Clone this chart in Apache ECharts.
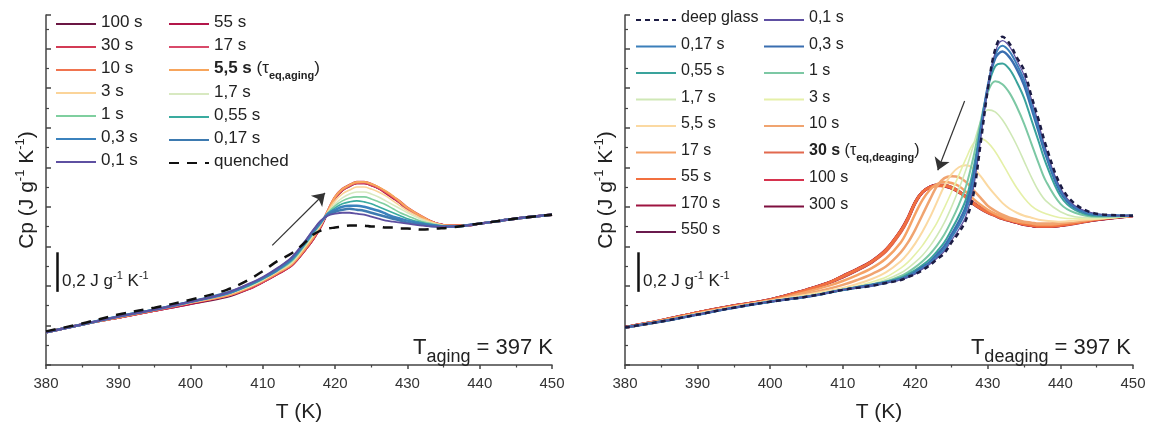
<!DOCTYPE html>
<html><head><meta charset="utf-8">
<script src="https://cdn.jsdelivr.net/npm/echarts@6/dist/echarts.min.js"></script>
<style>html,body{margin:0;padding:0;background:#fff}#c{width:1153px;height:428px}</style>
</head><body><div id="c"></div>
<script>
// ---------- data (relative Cp, J g^-1 K^-1) ----------
const T_aging = [380,385,390,395,400,405,408,410,412,414,416,417,418,419,420,421,422,423,424,425,426,427,428,429,430,432,434,436,438,440,443,446,450];
const aging_quenched = [.37,.41,.455,.49,.53,.58,.63,.675,.725,.765,.825,.86,.88,.89,.895,.90,.905,.905,.905,.90,.90,.895,.895,.89,.89,.885,.89,.895,.905,.915,.93,.945,.96];
const aging_0_1  = [.365,.405,.445,.48,.52,.565,.61,.645,.69,.745,.835,.885,.93,.955,.965,.97,.97,.965,.96,.95,.94,.93,.925,.92,.915,.905,.90,.90,.905,.915,.93,.945,.96];
const aging_0_17 = [.365,.405,.445,.48,.52,.565,.605,.64,.685,.74,.83,.88,.925,.96,.975,.985,.99,.985,.98,.97,.96,.95,.94,.93,.92,.91,.90,.90,.905,.915,.93,.945,.96];
const aging_0_3  = [.365,.405,.445,.48,.52,.56,.605,.64,.68,.735,.825,.875,.92,.965,.985,1.0,1.005,1.005,1.0,.99,.98,.965,.95,.94,.93,.915,.905,.90,.905,.915,.93,.945,.96];
const aging_0_55 = [.365,.405,.445,.48,.52,.56,.60,.635,.68,.73,.82,.87,.92,.965,.995,1.015,1.025,1.03,1.025,1.015,1.0,.985,.97,.955,.94,.92,.905,.90,.905,.915,.93,.945,.96];
const aging_1    = [.365,.405,.445,.48,.52,.56,.60,.635,.675,.725,.815,.865,.915,.97,1.005,1.03,1.045,1.05,1.05,1.04,1.025,1.01,.99,.97,.955,.925,.91,.90,.905,.915,.93,.945,.96];
const aging_1_7  = [.365,.405,.445,.48,.52,.56,.595,.63,.675,.72,.81,.86,.91,.97,1.015,1.045,1.065,1.075,1.075,1.065,1.05,1.03,1.01,.99,.97,.935,.91,.90,.905,.915,.93,.945,.96];
const aging_3    = [.365,.405,.445,.48,.515,.555,.595,.63,.67,.715,.805,.855,.91,.975,1.03,1.065,1.085,1.10,1.10,1.09,1.075,1.055,1.03,1.005,.98,.94,.915,.90,.905,.915,.93,.945,.96];
const aging_5_5  = [.365,.405,.44,.48,.515,.55,.59,.625,.665,.71,.795,.845,.905,.98,1.05,1.09,1.11,1.125,1.125,1.115,1.10,1.08,1.055,1.025,.995,.95,.915,.905,.905,.915,.93,.945,.96];
const aging_10   = [.365,.405,.44,.475,.515,.55,.59,.625,.665,.71,.795,.845,.905,.98,1.05,1.085,1.11,1.12,1.125,1.115,1.10,1.075,1.05,1.025,.995,.95,.915,.905,.905,.915,.93,.945,.96];
const aging_17   = [.365,.405,.44,.475,.515,.55,.59,.62,.665,.71,.795,.845,.905,.98,1.045,1.085,1.105,1.12,1.12,1.11,1.095,1.075,1.05,1.02,.99,.945,.915,.905,.905,.915,.93,.945,.96];
const aging_30   = [.365,.405,.44,.475,.515,.55,.585,.62,.66,.705,.79,.84,.90,.98,1.05,1.09,1.11,1.125,1.125,1.115,1.095,1.075,1.05,1.025,.995,.95,.915,.905,.905,.915,.93,.945,.96];
const aging_55   = [.365,.405,.44,.475,.51,.55,.585,.62,.66,.705,.79,.84,.90,.975,1.045,1.085,1.11,1.12,1.12,1.11,1.095,1.07,1.045,1.02,.99,.945,.915,.905,.905,.915,.93,.945,.96];
const aging_100  = [.365,.405,.44,.475,.51,.545,.585,.62,.66,.705,.79,.84,.90,.975,1.045,1.085,1.105,1.12,1.12,1.11,1.095,1.075,1.05,1.02,.99,.945,.915,.905,.905,.915,.93,.945,.96];

const T_deaging = [380,385,390,395,400,405,408,410,412,414,416,418,419,420,421,422,423,424,425,426,427,428,429,430,431,432,433,434,435,436,437,438,440,442,445,450];
const deaging_deep = [.39,.42,.455,.49,.52,.545,.565,.58,.59,.60,.615,.63,.645,.66,.68,.705,.735,.765,.82,.87,.935,1.06,1.32,1.595,1.795,1.86,1.825,1.755,1.69,1.56,1.44,1.31,1.11,1.015,.965,.955];
const deaging_0_1  = [.39,.42,.455,.49,.52,.545,.565,.58,.59,.60,.615,.63,.645,.66,.685,.71,.74,.775,.83,.885,.955,1.09,1.34,1.60,1.78,1.84,1.81,1.74,1.665,1.545,1.42,1.29,1.095,1.005,.965,.955];
const deaging_0_17 = [.39,.42,.455,.49,.52,.545,.565,.58,.59,.60,.615,.635,.645,.665,.69,.715,.75,.785,.845,.905,.98,1.12,1.365,1.605,1.765,1.815,1.785,1.72,1.64,1.52,1.40,1.275,1.085,1.0,.96,.955];
const deaging_0_3  = [.39,.42,.455,.49,.52,.545,.565,.58,.593,.605,.618,.635,.65,.67,.695,.72,.76,.80,.86,.925,1.005,1.15,1.385,1.61,1.75,1.785,1.755,1.695,1.615,1.50,1.38,1.26,1.075,.995,.96,.955];
const deaging_0_55 = [.39,.42,.455,.49,.52,.545,.565,.58,.594,.607,.622,.642,.66,.68,.705,.735,.775,.82,.885,.955,1.04,1.19,1.40,1.60,1.71,1.725,1.695,1.63,1.55,1.44,1.33,1.22,1.055,.985,.955,.955];
const deaging_1    = [.39,.42,.455,.49,.52,.545,.565,.578,.59,.603,.622,.65,.67,.695,.725,.76,.805,.86,.93,1.01,1.105,1.25,1.43,1.58,1.635,1.62,1.575,1.505,1.42,1.32,1.22,1.13,1.015,.97,.95,.955];
const deaging_1_7  = [.39,.42,.455,.49,.52,.545,.565,.58,.595,.61,.632,.665,.69,.72,.755,.80,.855,.92,1.0,1.09,1.19,1.31,1.43,1.49,1.48,1.44,1.38,1.31,1.23,1.15,1.08,1.03,.975,.95,.945,.955];
const deaging_3    = [.39,.42,.455,.49,.52,.55,.57,.585,.60,.62,.645,.69,.72,.76,.805,.86,.92,.995,1.075,1.16,1.245,1.32,1.345,1.325,1.28,1.22,1.155,1.095,1.045,1.005,.98,.965,.945,.94,.94,.955];
const deaging_5_5  = [.39,.42,.46,.495,.525,.555,.575,.59,.61,.635,.67,.725,.765,.815,.875,.945,1.025,1.105,1.165,1.20,1.21,1.195,1.155,1.105,1.06,1.02,.99,.97,.955,.945,.935,.93,.925,.93,.94,.955];
const deaging_10   = [.39,.42,.46,.495,.525,.56,.585,.605,.63,.66,.70,.77,.82,.885,.96,1.035,1.105,1.145,1.155,1.15,1.125,1.085,1.045,1.005,.98,.96,.945,.935,.925,.92,.915,.915,.92,.925,.94,.955];
const deaging_17   = [.39,.425,.46,.495,.525,.57,.60,.625,.655,.69,.74,.82,.885,.965,1.035,1.085,1.115,1.125,1.12,1.105,1.075,1.04,1.01,.985,.965,.95,.935,.925,.92,.915,.91,.91,.915,.925,.94,.955];
const deaging_30   = [.39,.425,.465,.50,.53,.58,.615,.645,.68,.72,.775,.87,.935,1.02,1.075,1.10,1.11,1.11,1.10,1.08,1.05,1.02,.995,.975,.96,.945,.935,.925,.915,.91,.905,.905,.91,.92,.94,.955];
const deaging_55   = [.39,.425,.465,.50,.53,.58,.615,.65,.685,.725,.785,.88,.945,1.025,1.075,1.10,1.105,1.105,1.095,1.075,1.045,1.015,.99,.97,.955,.94,.93,.92,.91,.905,.90,.90,.905,.915,.935,.955];
const deaging_100  = [.39,.425,.465,.50,.53,.58,.615,.645,.68,.72,.78,.875,.94,1.02,1.07,1.095,1.105,1.105,1.095,1.075,1.045,1.015,.99,.97,.955,.94,.93,.92,.91,.905,.90,.90,.905,.915,.935,.955];
const deaging_170  = [.39,.425,.465,.50,.53,.58,.615,.65,.685,.725,.785,.88,.945,1.025,1.075,1.10,1.11,1.105,1.095,1.075,1.05,1.02,.995,.975,.96,.945,.93,.92,.91,.905,.90,.90,.905,.92,.935,.955];
const deaging_300  = [.39,.425,.465,.50,.53,.58,.615,.645,.68,.72,.78,.875,.94,1.02,1.075,1.10,1.11,1.105,1.095,1.075,1.05,1.015,.99,.97,.955,.94,.93,.92,.91,.905,.90,.90,.905,.915,.935,.955];
const deaging_550  = [.39,.425,.465,.50,.53,.58,.615,.65,.685,.725,.785,.88,.94,1.025,1.075,1.10,1.11,1.11,1.10,1.08,1.05,1.02,.995,.975,.96,.945,.935,.92,.915,.905,.90,.90,.905,.92,.935,.955];

const xTicks = [380,390,400,410,420,430,440,450];
// annotation anchors in data units (T in K, relative Cp)
const agingArrow = [[411.3, .805],[418.6, 1.07]];
const deagingArrow = [[426.8, 1.535],[423.1, 1.185]];
const scaleBarAging = [[381.5, .57],[381.5, .77]];
const scaleBarDeaging = [[381.8, .57],[381.8, .77]];

// ---------- chart ----------
const FONT = 'Liberation Sans, Arial, Helvetica, sans-serif';
const chart = echarts.init(document.getElementById('c'));
const pairs = (T, v) => T.map((t, i) => [t, v[i]]);

function line(name, T, v, color, width, gi, dash) {
  return {
    type: 'line', name: name, xAxisIndex: gi, yAxisIndex: gi,
    data: pairs(T, v), symbol: 'none', showSymbol: false, smooth: 0.35,
    lineStyle: { color: color, width: width, type: dash || 'solid' },
    itemStyle: { color: color }, silent: true, animation: false
  };
}
const L = 0, R = 1;
const sAging = [
  line('100 s', T_aging, aging_100, '#6b1744', 2.5, L),
  line('55 s', T_aging, aging_55, '#b3164a', 2.5, L),
  line('30 s', T_aging, aging_30, '#d33b55', 2.5, L),
  line('17 s', T_aging, aging_17, '#d94a6a', 2, L),
  line('10 s', T_aging, aging_10, '#f0744f', 1.6, L),
  line('5,5 s (τeq,aging)', T_aging, aging_5_5, '#f7a55c', 2, L),
  line('3 s', T_aging, aging_3, '#fbd499', 1.6, L),
  line('1,7 s', T_aging, aging_1_7, '#d8e9c1', 1.6, L),
  line('1 s', T_aging, aging_1, '#7fcf9f', 1.6, L),
  line('0,55 s', T_aging, aging_0_55, '#3aab9f', 1.6, L),
  line('0,3 s', T_aging, aging_0_3, '#3b82bd', 2.5, L),
  line('0,17 s', T_aging, aging_0_17, '#3d7ab0', 2.5, L),
  line('0,1 s', T_aging, aging_0_1, '#5e50a1', 1.8, L),
  line('quenched', T_aging, aging_quenched, '#111111', 2.5, L, [10, 8])
];
const sDeaging = [
  line('550 s#R', T_deaging, deaging_550, '#6a1a4e', 2.5, R),
  line('300 s#R', T_deaging, deaging_300, '#7e0f3f', 3, R),
  line('170 s#R', T_deaging, deaging_170, '#9e1440', 3, R),
  line('100 s#R', T_deaging, deaging_100, '#d6334e', 1.6, R),
  line('30 s (τeq,deaging)', T_deaging, deaging_30, '#e2694e', 2.5, R),
  line('55 s#R', T_deaging, deaging_55, '#f2703f', 2.5, R),
  line('17 s#R', T_deaging, deaging_17, '#f5a266', 2.5, R),
  line('10 s#R', T_deaging, deaging_10, '#f0a470', 2.5, R),
  line('5,5 s#R', T_deaging, deaging_5_5, '#fbd9a2', 2, R),
  line('3 s#R', T_deaging, deaging_3, '#e5f0a8', 1.6, R),
  line('1,7 s#R', T_deaging, deaging_1_7, '#cfe8b6', 1.6, R),
  line('1 s#R', T_deaging, deaging_1, '#7cc8a4', 2, R),
  line('0,55 s#R', T_deaging, deaging_0_55, '#3aa39c', 2, R),
  line('0,3 s#R', T_deaging, deaging_0_3, '#3a6eb0', 2.5, R),
  line('0,17 s#R', T_deaging, deaging_0_17, '#3b7fba', 2, R),
  line('0,1 s#R', T_deaging, deaging_0_1, '#5e4fa2', 1.2, R),
  line('deep glass', T_deaging, deaging_deep, '#1c1c44', 2.5, R, [5, 4])
];

function arrowML(p) {
  return { silent: true, animation: false, symbol: ['none', 'arrow'], symbolSize: 12,
    lineStyle: { color: '#333', width: 1.2, type: 'solid' }, label: { show: false },
    emphasis: { disabled: true },
    data: [[{ coord: p[0] }, { coord: p[1] }]] };
}
function barML(p) {
  return { silent: true, animation: false, symbol: ['none', 'none'],
    lineStyle: { color: '#111', width: 2.5, type: 'solid' }, label: { show: false },
    emphasis: { disabled: true },
    data: [[{ coord: p[0] }, { coord: p[1] }]] };
}
sAging[13].markLine = arrowML(agingArrow);
sAging[12].markLine = barML(scaleBarAging);
sDeaging[16].markLine = arrowML(deagingArrow);
sDeaging[15].markLine = barML(scaleBarDeaging);

const axisCol = '#444';
function xAx(gi) {
  return { type: 'value', gridIndex: gi, min: 380, max: 450, interval: 10,
    axisLine: { show: true, onZero: false, lineStyle: { color: axisCol, width: 1.5 } },
    axisTick: { show: true, inside: false, length: 4, lineStyle: { color: axisCol, width: 1.5 } },
    minorTick: { show: true, splitNumber: 2, length: 2.5, lineStyle: { color: axisCol, width: 1.2 } },
    splitLine: { show: false },
    axisLabel: { fontSize: 15, color: '#333', margin: 11, fontFamily: FONT,
      formatter: v => xTicks.includes(v) ? String(v) : '' },
    name: 'T (K)', nameLocation: 'middle', nameGap: 37,
    nameTextStyle: { fontSize: 21, color: '#222', fontFamily: FONT } };
}
function yAx(gi) {
  return { type: 'value', gridIndex: gi, min: 0.2, max: 1.97, interval: 0.2,
    axisLine: { show: true, onZero: false, lineStyle: { color: axisCol, width: 1.5 } },
    axisTick: { show: true, inside: true, length: 5, lineStyle: { color: axisCol, width: 1.5 } },
    minorTick: { show: true, splitNumber: 2, length: 3, lineStyle: { color: axisCol, width: 1.2 } },
    splitLine: { show: false }, axisLabel: { show: false },
    name: '{m|Cp (J g}{p|-1}{m| K}{p|-1}{m|)}', nameLocation: 'middle', nameGap: 8, nameRotate: 90,
    nameTextStyle: { fontFamily: FONT, color: '#222', rich: {
      m: { fontSize: 21, lineHeight: 24, verticalAlign: 'bottom', fontFamily: FONT, color: '#222' },
      p: { fontSize: 13, lineHeight: 13, verticalAlign: 'top', fontFamily: FONT, color: '#222' } } } };
}

function fmt(n) {
  n = n.replace('#R', '');
  if (n.startsWith('5,5 s (')) return '{b|5,5 s} {n|(τ}{s|eq,aging}{n|)}';
  if (n.startsWith('30 s (')) return '{b|30 s} {n|(τ}{s|eq,deaging}{n|)}';
  return '{n|' + n + '}';
}
function legendRich(fs) {
  return {
    n: { fontSize: fs, lineHeight: 20, verticalAlign: 'top', fontFamily: FONT, color: '#222' },
    b: { fontSize: fs, lineHeight: 20, fontWeight: 'bold', verticalAlign: 'top', fontFamily: FONT, color: '#222' },
    s: { fontSize: 11, lineHeight: 11, fontWeight: 'bold', padding: [10, 0, 0, 0], verticalAlign: 'top', fontFamily: FONT, color: '#222' }
  };
}
function legend(names, left, top, gap, fs) {
  return { data: names, left: left, top: top, orient: 'vertical', itemGap: gap, padding: 0,
    itemWidth: 40, itemHeight: 14, selectedMode: false, formatter: fmt,
    itemStyle: { opacity: 0 },
    textStyle: { fontSize: fs, lineHeight: 20, fontFamily: FONT, color: '#222', rich: legendRich(fs) } };
}

const subRich = {
  t: { fontSize: 22, lineHeight: 26, verticalAlign: 'top', fontWeight: 'normal', fontFamily: FONT, color: '#222' },
  s: { fontSize: 18, lineHeight: 18, padding: [11, 0, 0, 0], verticalAlign: 'top', fontWeight: 'normal', fontFamily: FONT, color: '#222' }
};
const supRich = {
  m: { fontSize: 17, lineHeight: 20, verticalAlign: 'bottom', fontWeight: 'normal', fontFamily: FONT, color: '#222' },
  p: { fontSize: 11, lineHeight: 11, verticalAlign: 'top', fontWeight: 'normal', fontFamily: FONT, color: '#222' }
};

chart.setOption({
  animation: false,
  backgroundColor: '#fff',
  textStyle: { fontFamily: FONT },
  grid: [
    { left: 46, top: 15, width: 506, height: 354 },
    { left: 625, top: 15, width: 508, height: 354 }
  ],
  xAxis: [xAx(0), xAx(1)],
  yAxis: [yAx(0), yAx(1)],
  legend: [
    legend(['100 s', '30 s', '10 s', '3 s', '1 s', '0,3 s', '0,1 s'], 55, 14, 3, 17),
    legend(['55 s', '17 s', '5,5 s (τeq,aging)', '1,7 s', '0,55 s', '0,17 s', 'quenched'], 168, 14, 3, 17),
    legend(['deep glass', '0,17 s#R', '0,55 s#R', '1,7 s#R', '5,5 s#R', '17 s#R', '55 s#R', '170 s#R', '550 s#R'], 635, 10, 6.5, 16),
    legend(['0,1 s#R', '0,3 s#R', '1 s#R', '3 s#R', '10 s#R', '30 s (τeq,deaging)', '100 s#R', '300 s#R'], 763, 10, 6.5, 16)
  ],
  title: [
    { text: '{t|T}{s|aging}{t| = 397 K}', right: 600, top: 337, padding: 0, textStyle: { fontWeight: 'normal', rich: subRich } },
    { text: '{t|T}{s|deaging}{t| = 397 K}', right: 22, top: 337, padding: 0, textStyle: { fontWeight: 'normal', rich: subRich } },
    { text: '{m|0,2 J g}{p|-1}{m| K}{p|-1}', left: 62, top: 270, padding: 0, textStyle: { fontWeight: 'normal', rich: supRich } },
    { text: '{m|0,2 J g}{p|-1}{m| K}{p|-1}', left: 643, top: 270, padding: 0, textStyle: { fontWeight: 'normal', rich: supRich } }
  ],
  series: sAging.concat(sDeaging)
});
</script>
</body></html>
